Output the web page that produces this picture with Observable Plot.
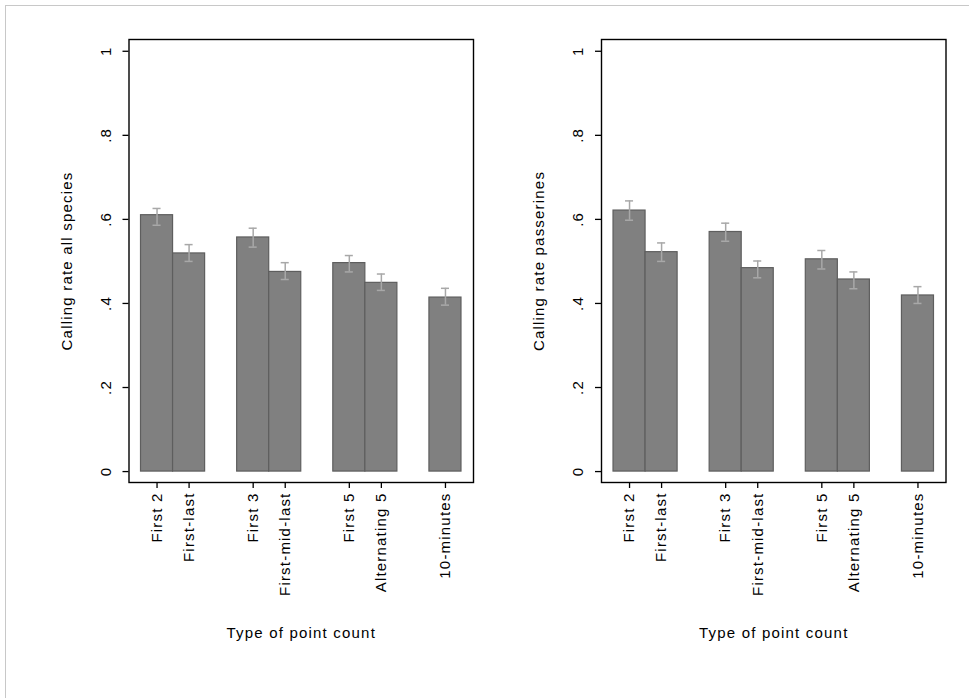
<!DOCTYPE html>
<html><head><meta charset="utf-8">
<script src="https://cdn.jsdelivr.net/npm/d3@7"></script>
<script src="https://cdn.jsdelivr.net/npm/@observablehq/plot@0.6"></script>
<style>
body{margin:0;background:#fff;}
#wrap{position:relative;width:969px;height:698px;overflow:hidden;background:#fff;}
#border{position:absolute;left:5px;top:5px;width:1000px;height:1000px;border:1px solid #c8c8c8;}
.panel{position:absolute;top:0;}
#wrap svg text{letter-spacing:1.2px;}
</style></head><body>
<div id="wrap"><div id="border"></div><div id="p1" class="panel" style="left:0px"></div><div id="p2" class="panel" style="left:485px"></div></div>
<script>
// ---- data ----
const categories = ["First 2", "First-last", "First 3", "First-mid-last", "First 5", "Alternating 5", "10-minutes"];
const groups = [0, 0, 1, 1, 2, 2, 3];

const allSpeciesRate = [0.610, 0.519, 0.557, 0.475, 0.496, 0.449, 0.414];
const allSpeciesLo   = [0.586, 0.500, 0.534, 0.457, 0.475, 0.431, 0.396];
const allSpeciesHi   = [0.626, 0.540, 0.579, 0.497, 0.514, 0.470, 0.436];

const passerineRate = [0.621, 0.522, 0.570, 0.484, 0.505, 0.457, 0.419];
const passerineLo   = [0.598, 0.500, 0.548, 0.461, 0.482, 0.435, 0.400];
const passerineHi   = [0.644, 0.544, 0.591, 0.501, 0.526, 0.475, 0.440];

const yTicks = [0, 0.2, 0.4, 0.6, 0.8, 1];
const yTickLabels = ["0", ".2", ".4", ".6", ".8", "1"];

const xTitle = "Type of point count";
const yTitles = ["Calling rate all species", "Calling rate passerines"];

// ---- build band domain with blank spacer slots between groups ----
const xDomain = [];
categories.forEach((c, i) => {
  if (i > 0 && groups[i] !== groups[i - 1]) xDomain.push(" ".repeat(groups[i]));
  xDomain.push(c);
});

const FONT = "'Liberation Sans', Arial, sans-serif";
const textStyle = {fontFamily: FONT, fontSize: 15};

function panel(rate, lo, hi, yTitle, ml, mr, width) {
  const data = categories.map((c, i) => ({cat: c, v: rate[i], lo: lo[i], hi: hi[i]}));
  const ticks = yTicks.map((t, i) => ({t, label: yTickLabels[i]}));
  return Plot.plot({
    width, height: 698,
    marginLeft: ml, marginRight: mr, marginTop: 39, marginBottom: 216,
    style: {fontFamily: FONT, fontSize: "15px", background: "transparent", color: "#000"},
    x: {type: "band", domain: xDomain, paddingInner: 0, paddingOuter: 0.375, round: false, axis: null},
    y: {domain: [-0.026, 1.028], axis: null},
    marks: [
      Plot.barY(data, {x: "cat", y: "v", fill: "#808080", stroke: "#5e5e5e", strokeWidth: 1.2}),
      Plot.ruleX(data, {x: "cat", y1: "lo", y2: "hi", stroke: "#a8a8a8", strokeWidth: 1.5}),
      Plot.tickY(data, {x: "cat", y: "lo", stroke: "#a8a8a8", strokeWidth: 1.5, insetLeft: 12, insetRight: 12}),
      Plot.tickY(data, {x: "cat", y: "hi", stroke: "#a8a8a8", strokeWidth: 1.5, insetLeft: 12, insetRight: 12}),
      Plot.frame({stroke: "#000", strokeWidth: 1.4}),
      Plot.axisX({ticks: categories, tickSize: 6, tickFormat: () => "", label: null, stroke: "#000", strokeWidth: 1.3}),
      Plot.axisY({ticks: yTicks, tickSize: 6, tickFormat: () => "", label: null, stroke: "#000", strokeWidth: 1.3}),
      Plot.text(categories, {x: d => d, frameAnchor: "bottom", rotate: -90, textAnchor: "end", lineAnchor: "middle", dy: 10, fill: "#000", ...textStyle}),
      Plot.text(ticks, {y: "t", text: "label", frameAnchor: "left", rotate: -90, textAnchor: "middle", lineAnchor: "middle", dx: -23, fill: "#000", ...textStyle}),
      Plot.text([yTitle], {frameAnchor: "left", rotate: -90, textAnchor: "middle", lineAnchor: "middle", dx: -62, fill: "#000", ...textStyle}),
      Plot.text([xTitle], {frameAnchor: "bottom", textAnchor: "middle", lineAnchor: "middle", dy: 151, fill: "#000", ...textStyle})
    ]
  });
}

document.getElementById("p1").append(panel(allSpeciesRate, allSpeciesLo, allSpeciesHi, yTitles[0], 128.5, 12, 485));
document.getElementById("p2").append(panel(passerineRate, passerineLo, passerineHi, yTitles[1], 116, 23.5, 484));
</script>
</body></html>
